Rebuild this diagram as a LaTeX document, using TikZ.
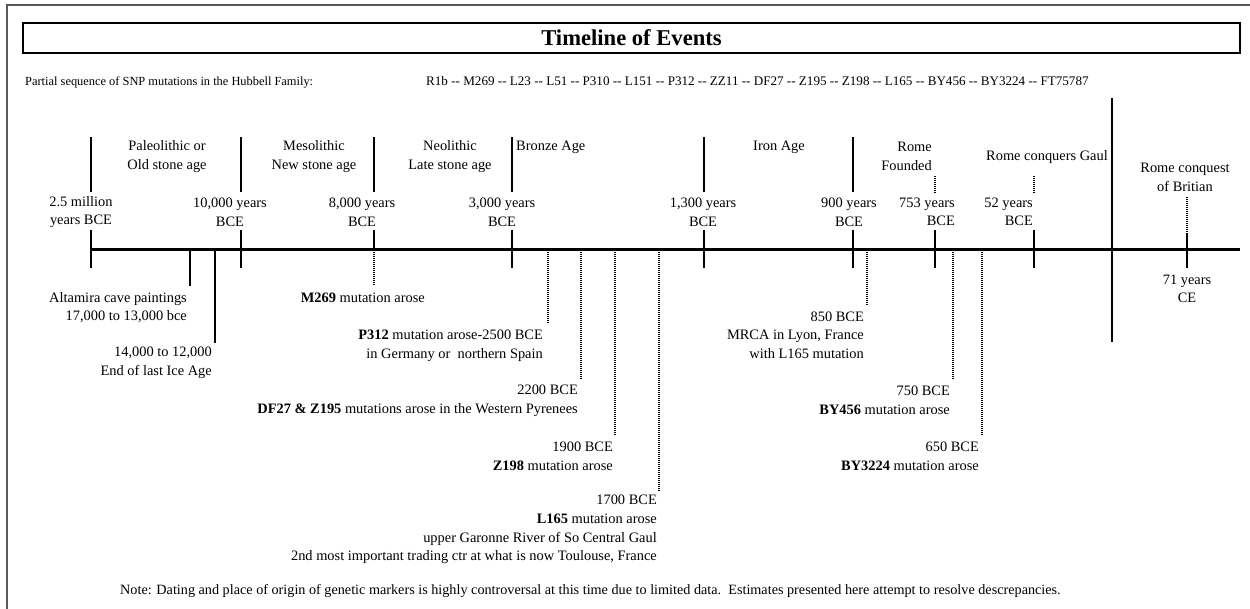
\documentclass[tikz,border=0pt]{standalone}
\usepackage{fontspec}
\setmainfont{Liberation Serif}
\newcommand\seqsep{\mbox{-}\mbox{-}}
\begin{document}
\begin{tikzpicture}[x=1pt,y=-1pt,
  lbl/.style={font=\fontsize{14.4}{18.6}\selectfont, inner sep=0pt, align=center},
  rlbl/.style={lbl, align=right, anchor=east},
  smalltext/.style={font=\fontsize{12.4}{15}\selectfont, inner sep=0pt, anchor=base west},
  tick/.style={line width=1.6pt},
  dotline/.style={line width=1.1pt, dash pattern=on 1pt off 1pt},
  axisline/.style={line width=3pt},
]
\useasboundingbox (0,0) rectangle (1250,609);

% page frame (top and left edges)
\draw[black!65, line width=1.2pt] (7,609) -- (7,5) -- (1250,5);

% title
\node[draw, line width=1.8pt, minimum width=1217pt, minimum height=30pt, inner sep=0pt,
      font=\bfseries\fontsize{22.6}{26}\selectfont] (title) at (631.5,38) {Timeline of Events};

% header lines
\node[smalltext] (intro) at (25,86) {Partial sequence of SNP mutations in the Hubbell Family:};
\node[smalltext, font=\fontsize{13.1}{15}\selectfont] (seq) at (426,86) {R1b \seqsep{} M269 \seqsep{} L23 \seqsep{} L51 \seqsep{} P310 \seqsep{} L151 \seqsep{} P312 \seqsep{} ZZ11 \seqsep{} DF27 \seqsep{} Z195 \seqsep{} Z198 \seqsep{} L165 \seqsep{} BY456 \seqsep{} BY3224 \seqsep{} FT75787};

% main axis
\coordinate (axL) at (91,250);
\coordinate (axR) at (1240,250);
\draw[axisline] (axL) -- (axR);

% BCE / CE divider
\coordinate (divT) at (1112,98);
\coordinate (divB) at (1112,342);
\draw[line width=1.8pt] (divT) -- (divB);

% major era boundaries: line above the date label, tick through the axis
\foreach \x in {91,241,512,704,853} {
  \draw[tick] (\x,137) -- (\x,192);
  \draw[tick] (\x,230) -- (\x,268);
}
% 8,000 BCE: solid above, dotted down to the M269 note
\draw[tick] (374,137) -- (374,192);
\draw[tick] (374,230) -- (374,250);
\draw[dotline] (374,250) -- (374,285);
% Rome events: dotted above the label, tick through the axis
\foreach \x in {935,1034} {
  \draw[dotline] (\x,176) -- (\x,193);
  \draw[tick] (\x,230) -- (\x,268);
}
\draw[dotline] (1187,197) -- (1187,233);
\draw[tick] (1187,233) -- (1187,268);

% solid ticks below the axis
\draw[tick] (190,250) -- (190,286);
\draw[tick] (215,250) -- (215,343);

% dotted drops to the mutation notes
\foreach \x/\y in {548/323, 581/379, 615/436, 659/492, 867/305, 953/379, 982/436} {
  \draw[dotline] (\x,250) -- (\x,\y);
}

% date labels above the axis
\node[lbl] (d1) at (81,212)  {2.5 million\\years BCE};
\node[lbl] (d2) at (230,212) {10,000 years\\BCE};
\node[lbl] (d3) at (362,212) {8,000 years\\BCE};
\node[lbl] (d4) at (502,212) {3,000 years\\BCE};
\node[lbl] (d5) at (703,212) {1,300 years\\BCE};
\node[lbl] (d6) at (849,212) {900 years\\BCE};
\node[rlbl] (d7) at (955,212) {753 years\\BCE};
\node[rlbl] (d8) at (1033,212) {52 years\\BCE};
\node[lbl] (d9) at (1187,289) {71 years\\CE};

% era names
\node[lbl] (e1) at (167,156.5) {Paleolithic or\\Old stone age};
\node[lbl] (e2) at (314,156.5) {Mesolithic\\New stone age};
\node[lbl] (e3) at (450,156.5) {Neolithic\\Late stone age};
\node[lbl, anchor=west] (e4) at (516,147) {Bronze Age};
\node[lbl] (e5) at (779,147) {Iron Age};
\node[rlbl] (e6) at (932,156.5) {Rome\\Founded};
\node[lbl] (e7) at (1047,157) {Rome conquers Gaul};
\node[lbl] (e8) at (1185,177.5) {Rome conquest\\of Britian};

% notes below the axis
\node[rlbl] (n1) at (187,307.5) {Altamira cave paintings\\17,000 to 13,000 bce};
\node[rlbl] (n2) at (212,362.5) {14,000 to 12,000\\End of last Ice Age};
\node[rlbl] (n3) at (425,298) {\textbf{M269} mutation arose};
\node[rlbl] (n4) at (543,346) {\textbf{P312} mutation arose-2500 BCE\\in Germany or\ \ northern Spain};
\node[rlbl] (n5) at (578,400.5) {2200 BCE\\\textbf{DF27 \& Z195} mutations arose in the Western Pyrenees};
\node[rlbl] (n6) at (613,456.5) {1900 BCE\\\textbf{Z198} mutation arose};
\node[rlbl] (n7) at (657,529.5) {1700 BCE\\\textbf{L165} mutation arose\\upper Garonne River of So Central Gaul\\2nd most important trading ctr at what is now Toulouse, France};
\node[rlbl] (n8) at (864,335) {850 BCE\\MRCA in Lyon, France\\with L165 mutation};
\node[rlbl] (n9) at (950,400.5) {750 BCE\\\textbf{BY456} mutation arose};
\node[rlbl] (n10) at (979,456) {650 BCE\\\textbf{BY3224} mutation arose};

% footnote
\node[smalltext, font=\fontsize{14.2}{16}\selectfont] (note) at (120,594) {Note: Dating and place of origin of genetic markers is highly controversal at this time due to limited data.\ \ Estimates presented here attempt to resolve descrepancies.};
\end{tikzpicture}
\end{document}
